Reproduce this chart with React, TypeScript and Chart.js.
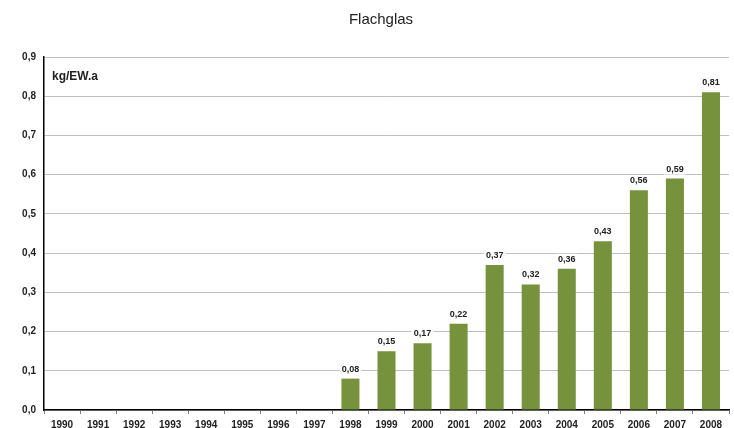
import React, { useEffect, useRef } from "react";
import { Chart, registerables } from "chart.js";

Chart.register(...registerables);

const years = ["1990","1991","1992","1993","1994","1995","1996","1997","1998","1999","2000","2001","2002","2003","2004","2005","2006","2007","2008"];
const values: (number | null)[] = [null,null,null,null,null,null,null,null,0.08,0.15,0.17,0.22,0.37,0.32,0.36,0.43,0.56,0.59,0.81];
const yTicks = [0,0.1,0.2,0.3,0.4,0.5,0.6,0.7,0.8,0.9];
const title = "Flachglas";
const unitLabel = "kg/EW.a";

const fmt = (v: number, d: number) => v.toFixed(d).replace(".", ",");

const overlay = {
  id: "overlay",
  afterDatasetsDraw(chart: any) {
    const ctx = chart.ctx;
    const meta = chart.getDatasetMeta(0);
    ctx.save();
    ctx.font = "bold 9px Arial, 'Liberation Sans', sans-serif";
    ctx.textAlign = "center";
    ctx.textBaseline = "bottom";
    meta.data.forEach((el: any, i: number) => {
      const v = values[i];
      if (v == null) return;
      const t = fmt(v, 2);
      const w = ctx.measureText(t).width;
      const yb = el.y - 5;
      ctx.fillStyle = "#ffffff";
      ctx.fillRect(el.x - w / 2 - 2, yb - 10, w + 4, 11);
      ctx.fillStyle = "#222222";
      ctx.fillText(t, el.x, yb);
    });
    ctx.font = "bold 12px Arial, 'Liberation Sans', sans-serif";
    ctx.textAlign = "left";
    ctx.textBaseline = "middle";
    ctx.fillStyle = "#222222";
    ctx.fillText(unitLabel, chart.chartArea.left + 8, 77);
    ctx.font = "15px Arial, 'Liberation Sans', sans-serif";
    ctx.textAlign = "center";
    ctx.fillText(title, 381, 20);
    ctx.restore();
  },
};

export default function App() {
  const ref = useRef<HTMLCanvasElement>(null);
  useEffect(() => {
    document.body.style.margin = "0";
    const chart = new Chart(ref.current!, {
      type: "bar",
      data: {
        labels: years,
        datasets: [
          {
            data: values,
            backgroundColor: "#76923c",
            barPercentage: 0.5,
            categoryPercentage: 1,
          },
        ],
      },
      options: {
        animation: false,
        responsive: false,
        devicePixelRatio: 1,
        layout: { padding: { top: 57, right: 5, left: 0, bottom: 0 } },
        plugins: { legend: { display: false }, title: { display: false }, tooltip: { enabled: false } },
        scales: {
          x: {
            grid: { offset: true, drawOnChartArea: false, drawTicks: true, tickLength: 4, color: "#808080" },
            border: { color: "#000000", width: 1.5 },
            ticks: {
              color: "#222222",
              font: { family: "Arial, 'Liberation Sans', sans-serif", size: 10, weight: "bold" },
              padding: 5,
              maxRotation: 0,
              autoSkip: false,
            },
            afterFit: (s: any) => { s.height = 18; },
          },
          y: {
            min: 0,
            max: 0.9,
            afterBuildTicks: (s: any) => { s.ticks = yTicks.map((v) => ({ value: v })); },
            grid: { color: "#c0c0c0", drawTicks: false },
            border: { color: "#000000", width: 1.5 },
            ticks: {
              color: "#222222",
              font: { family: "Arial, 'Liberation Sans', sans-serif", size: 10, weight: "bold" },
              padding: 8,
              callback: (v: any) => fmt(Number(v), 1),
            },
            afterFit: (s: any) => { s.width = 44; },
          },
        },
      },
      plugins: [overlay],
    });
    return () => chart.destroy();
  }, []);
  return <canvas ref={ref} width={734} height={428} style={{ display: "block" }} />;
}
